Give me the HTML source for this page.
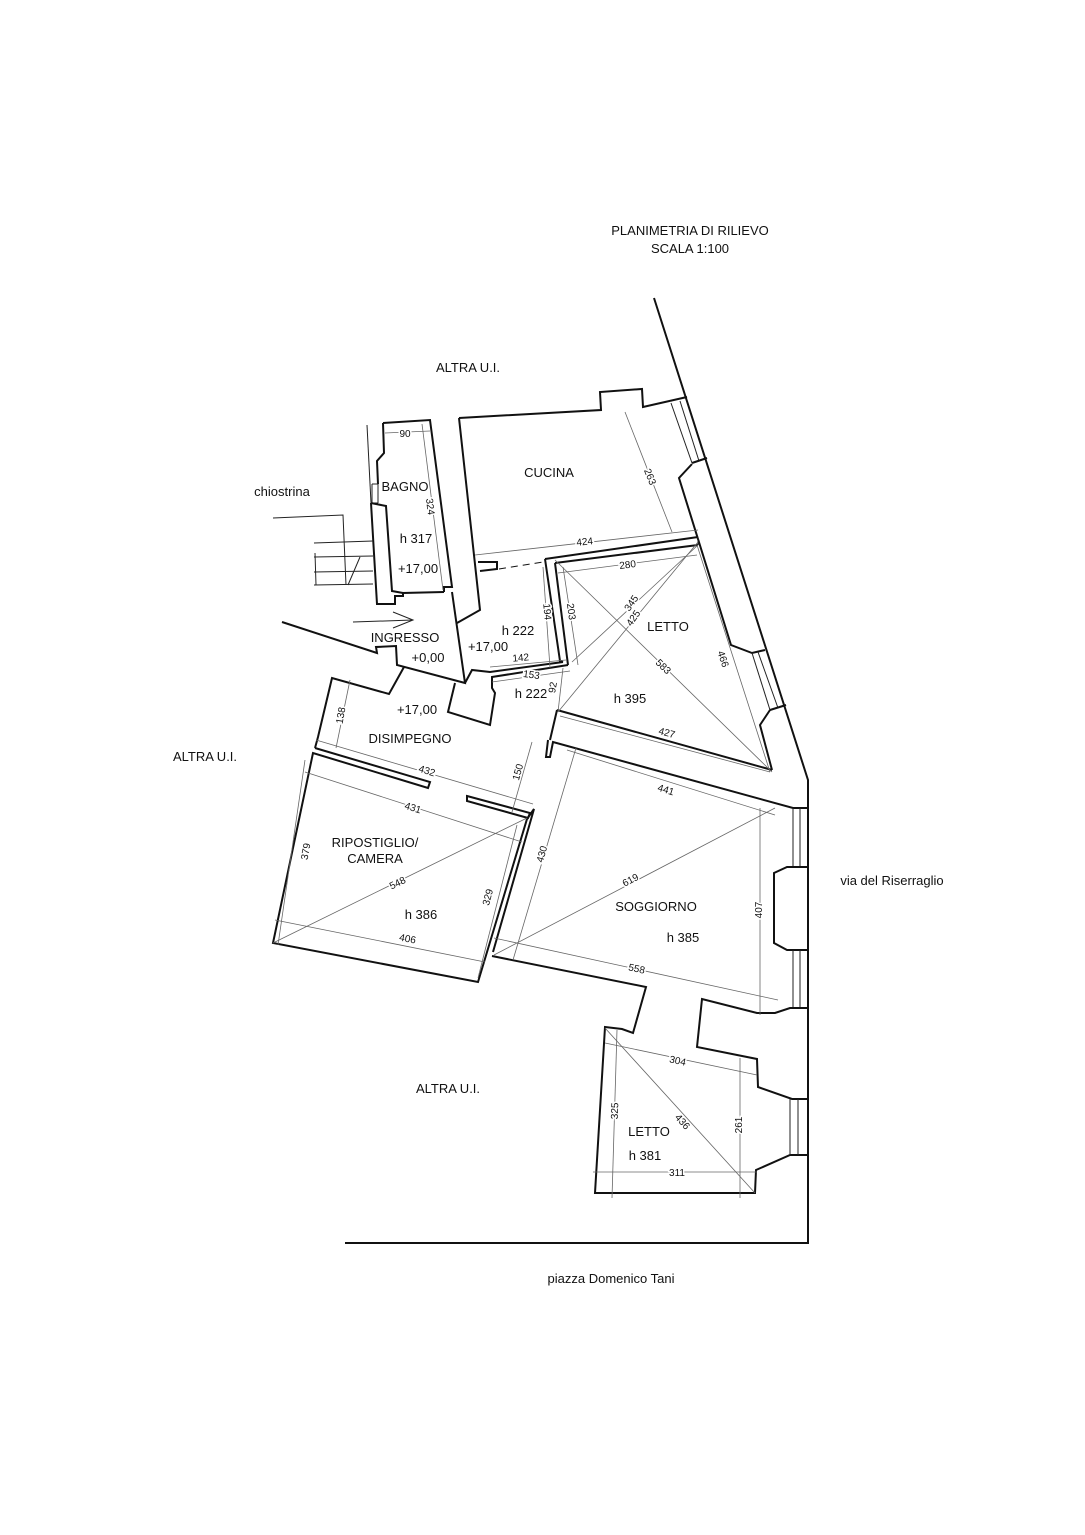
<!DOCTYPE html>
<html><head><meta charset="utf-8"><style>
html,body{margin:0;padding:0;background:#fff}
svg{display:block}
text{font-family:"Liberation Sans",sans-serif;fill:#111}
.w{fill:none;stroke:#111;stroke-width:2;stroke-linejoin:miter}
.t{fill:none;stroke:#222;stroke-width:1}
.d{fill:none;stroke:#666;stroke-width:0.8}
.lb{font-size:13px}
.dm{font-size:10px;fill:#333}
</style></head><body>
<svg width="1085" height="1535" viewBox="0 0 1085 1535" xmlns="http://www.w3.org/2000/svg">
<!-- titles -->
<text x="690" y="235" text-anchor="middle" class="lb">PLANIMETRIA DI RILIEVO</text>
<text x="690" y="253" text-anchor="middle" class="lb">SCALA 1:100</text>
<text x="468" y="372" text-anchor="middle" class="lb">ALTRA U.I.</text>
<text x="205" y="761" text-anchor="middle" class="lb">ALTRA U.I.</text>
<text x="448" y="1093" text-anchor="middle" class="lb">ALTRA U.I.</text>
<text x="282" y="496" text-anchor="middle" class="lb">chiostrina</text>
<text x="892" y="885" text-anchor="middle" class="lb">via del Riserraglio</text>
<text x="611" y="1283" text-anchor="middle" class="lb">piazza Domenico Tani</text>

<!-- exterior street line -->
<polyline class="w" points="654,298 808,780 808,1243 345,1243"/>

<!-- kitchen -->
<polyline class="w" points="459,418 601,410 600,392 642,389 643,407 687,397"/>
<polyline class="w" points="459,418 480,610 457,623"/>
<polyline class="w" points="478,562 497,562 497,569 480,571"/>
<line x1="499" y1="569" x2="543" y2="562" stroke="#111" stroke-width="1" stroke-dasharray="7,5"/>
<!-- right inner wall & windows -->
<line class="t" x1="671" y1="403" x2="692" y2="463"/>
<line class="t" x1="680" y1="401" x2="699" y2="461"/>
<polyline class="w" points="692,463 707,458"/>
<polyline class="w" points="692,464 679,478 731,645 752,653 765,650"/>
<line class="t" x1="752" y1="653" x2="770" y2="710"/>
<line class="t" x1="758" y1="652" x2="778" y2="708"/>
<polyline class="w" points="770,710 786,705"/>
<polyline class="w" points="770,710 760,725 772,770"/>

<!-- bagno -->
<polyline class="w" points="383,423 430,420 452,587 444,587 444,592"/>
<polyline class="w" points="383,423 384,453 377,461 378,484"/>
<line class="t" x1="372" y1="484" x2="378" y2="484"/>
<line class="t" x1="372" y1="503" x2="378" y2="503"/>
<line class="t" x1="372" y1="484" x2="372" y2="503"/>
<line class="t" x1="378" y1="484" x2="378" y2="503"/>
<polyline class="w" points="371,503 377,604 395,604 395,596 403,596 403,593 444,592"/>
<polyline class="w" points="371,503 386,506 392,591 403,593"/>
<line class="t" x1="367" y1="425" x2="371" y2="503"/>
<!-- chiostrina stairs -->
<polyline class="t" points="273,518 343,515 346,585"/>
<line class="t" x1="314" y1="543" x2="373" y2="541"/>
<line class="t" x1="314" y1="557" x2="373" y2="556"/>
<line class="t" x1="314" y1="572" x2="373" y2="571"/>
<line class="t" x1="314" y1="585" x2="373" y2="584"/>
<line class="t" x1="315" y1="553" x2="316" y2="585"/>
<line class="t" x1="360" y1="557" x2="348" y2="585"/>

<!-- ingresso -->
<polyline class="w" points="282,622 377,653 376,647 396,646 397,665 465,683 452,592"/>
<polyline class="t" points="353,622 413,620"/>
<polyline class="t" points="393,612 413,620 393,628"/>
<polyline class="w" points="404,667 389,694 332,678 318,737 315,748"/>
<polyline class="w" points="455,683 448,712 490,725 495,693 492,688 492,677 568,665"/>
<polyline class="w" points="465,683 472,670 490,672 563,662"/>

<!-- letto 1 walls -->
<polyline class="w" points="545,559 698,537"/>
<polyline class="w" points="555,563 698,545"/>
<polyline class="w" points="545,559 560,661 563,662"/>
<polyline class="w" points="555,563 568,665"/>
<polyline class="w" points="557,710 772,770"/>
<polyline class="w" points="557,710 550,740"/>
<polyline class="w" points="548,740 546,757 550,757 553,742 793,808 808,808"/>
<line class="t" x1="698" y1="537" x2="698" y2="545"/>

<!-- ripostiglio -->
<polyline class="w" points="315,748 430,782 428,788 313,753 273,943 478,982 527,819 534,809 493,952"/>
<polygon class="w" points="467,796 530,813 528,818 467,801"/>

<!-- soggiorno -->
<polyline class="w" points="492,956 646,987 633,1033 622,1029 605,1027 595,1193 755,1193 756,1170 790,1155 808,1155"/>
<line class="t" x1="793" y1="808" x2="793" y2="867"/>
<line class="t" x1="800" y1="808" x2="800" y2="867"/>
<polyline class="w" points="808,867 787,867 774,873 774,943 787,950 808,950"/>
<line class="t" x1="793" y1="950" x2="793" y2="1008"/>
<line class="t" x1="800" y1="950" x2="800" y2="1008"/>
<polyline class="w" points="808,1008 790,1008 775,1013 757,1013 702,999 697,1047 757,1059 758,1087 792,1099 808,1099"/>
<line class="t" x1="790" y1="1099" x2="790" y2="1155"/>
<line class="t" x1="798" y1="1099" x2="798" y2="1155"/>

<!-- dimension lines -->
<g class="d">
<line x1="385" y1="433" x2="430" y2="431"/>
<line x1="422" y1="424" x2="443" y2="590"/>
<line x1="625" y1="412" x2="672" y2="532"/>
<line x1="475" y1="555" x2="698" y2="530"/>
<line x1="558" y1="573" x2="697" y2="555"/>
<line x1="543" y1="567" x2="550" y2="668"/>
<line x1="563" y1="567" x2="578" y2="665"/>
<line x1="572" y1="662" x2="698" y2="545"/>
<line x1="558" y1="712" x2="698" y2="542"/>
<line x1="555" y1="560" x2="772" y2="772"/>
<line x1="697" y1="545" x2="770" y2="772"/>
<line x1="490" y1="667" x2="566" y2="660"/>
<line x1="492" y1="682" x2="570" y2="671"/>
<line x1="563" y1="668" x2="558" y2="712"/>
<line x1="560" y1="716" x2="770" y2="772"/>
<line x1="350" y1="680" x2="336" y2="748"/>
<line x1="316" y1="740" x2="533" y2="804"/>
<line x1="532" y1="742" x2="512" y2="812"/>
<line x1="305" y1="772" x2="522" y2="842"/>
<line x1="567" y1="750" x2="775" y2="815"/>
<line x1="305" y1="760" x2="278" y2="945"/>
<line x1="273" y1="943" x2="527" y2="818"/>
<line x1="517" y1="825" x2="478" y2="978"/>
<line x1="576" y1="748" x2="513" y2="960"/>
<line x1="494" y1="955" x2="775" y2="808"/>
<line x1="275" y1="920" x2="485" y2="962"/>
<line x1="760" y1="808" x2="760" y2="1015"/>
<line x1="494" y1="938" x2="778" y2="1000"/>
<line x1="605" y1="1043" x2="757" y2="1075"/>
<line x1="617" y1="1030" x2="612" y2="1198"/>
<line x1="605" y1="1028" x2="755" y2="1193"/>
<line x1="740" y1="1058" x2="740" y2="1198"/>
<line x1="593" y1="1172" x2="757" y2="1172"/>
</g>
<g class="dm" text-anchor="middle">
<text x="405" y="437" fill="#333" style="paint-order:stroke;stroke:#fff;stroke-width:3px">90</text>
<text transform="translate(427,507) rotate(83)" style="paint-order:stroke;stroke:#fff;stroke-width:3px">324</text>
<text transform="translate(647,478) rotate(68)" style="paint-order:stroke;stroke:#fff;stroke-width:3px">263</text>
<text transform="translate(585,545) rotate(-6)" style="paint-order:stroke;stroke:#fff;stroke-width:3px">424</text>
<text transform="translate(628,568) rotate(-7)" style="paint-order:stroke;stroke:#fff;stroke-width:3px">280</text>
<text transform="translate(544,612) rotate(85)" style="paint-order:stroke;stroke:#fff;stroke-width:3px">194</text>
<text transform="translate(568,612) rotate(82)" style="paint-order:stroke;stroke:#fff;stroke-width:3px">203</text>
<text transform="translate(634,605) rotate(-55)" style="paint-order:stroke;stroke:#fff;stroke-width:3px">345</text>
<text transform="translate(636,620) rotate(-55)" style="paint-order:stroke;stroke:#fff;stroke-width:3px">425</text>
<text transform="translate(661,669) rotate(44)" style="paint-order:stroke;stroke:#fff;stroke-width:3px">583</text>
<text transform="translate(720,660) rotate(72)" style="paint-order:stroke;stroke:#fff;stroke-width:3px">466</text>
<text transform="translate(521,661) rotate(-5)" style="paint-order:stroke;stroke:#fff;stroke-width:3px">142</text>
<text transform="translate(531,678) rotate(8)" style="paint-order:stroke;stroke:#fff;stroke-width:3px">153</text>
<text transform="translate(556,688) rotate(-80)" style="paint-order:stroke;stroke:#fff;stroke-width:3px">92</text>
<text transform="translate(666,736) rotate(15)" style="paint-order:stroke;stroke:#fff;stroke-width:3px">427</text>
<text transform="translate(344,716) rotate(-80)" style="paint-order:stroke;stroke:#fff;stroke-width:3px">138</text>
<text transform="translate(426,774) rotate(17)" style="paint-order:stroke;stroke:#fff;stroke-width:3px">432</text>
<text transform="translate(521,773) rotate(-74)" style="paint-order:stroke;stroke:#fff;stroke-width:3px">150</text>
<text transform="translate(412,811) rotate(17)" style="paint-order:stroke;stroke:#fff;stroke-width:3px">431</text>
<text transform="translate(665,793) rotate(17)" style="paint-order:stroke;stroke:#fff;stroke-width:3px">441</text>
<text transform="translate(309,852) rotate(-80)" style="paint-order:stroke;stroke:#fff;stroke-width:3px">379</text>
<text transform="translate(399,886) rotate(-26)" style="paint-order:stroke;stroke:#fff;stroke-width:3px">548</text>
<text transform="translate(491,898) rotate(-75)" style="paint-order:stroke;stroke:#fff;stroke-width:3px">329</text>
<text transform="translate(545,855) rotate(-74)" style="paint-order:stroke;stroke:#fff;stroke-width:3px">430</text>
<text transform="translate(632,883) rotate(-28)" style="paint-order:stroke;stroke:#fff;stroke-width:3px">619</text>
<text transform="translate(407,942) rotate(11)" style="paint-order:stroke;stroke:#fff;stroke-width:3px">406</text>
<text transform="translate(762,910) rotate(-90)" style="paint-order:stroke;stroke:#fff;stroke-width:3px">407</text>
<text transform="translate(636,972) rotate(12)" style="paint-order:stroke;stroke:#fff;stroke-width:3px">558</text>
<text transform="translate(677,1064) rotate(12)" style="paint-order:stroke;stroke:#fff;stroke-width:3px">304</text>
<text transform="translate(618,1111) rotate(-88)" style="paint-order:stroke;stroke:#fff;stroke-width:3px">325</text>
<text transform="translate(680,1124) rotate(48)" style="paint-order:stroke;stroke:#fff;stroke-width:3px">436</text>
<text transform="translate(742,1125) rotate(-90)" style="paint-order:stroke;stroke:#fff;stroke-width:3px">261</text>
<text x="677" y="1176" style="paint-order:stroke;stroke:#fff;stroke-width:3px">311</text>
</g>

<!-- room labels -->
<g class="lb" text-anchor="middle">
<text x="549" y="477">CUCINA</text>
<text x="405" y="491">BAGNO</text>
<text x="416" y="543">h 317</text>
<text x="418" y="573">+17,00</text>
<text x="405" y="642">INGRESSO</text>
<text x="428" y="662">+0,00</text>
<text x="518" y="635">h 222</text>
<text x="488" y="651">+17,00</text>
<text x="531" y="698">h 222</text>
<text x="668" y="631">LETTO</text>
<text x="630" y="703">h 395</text>
<text x="417" y="714">+17,00</text>
<text x="410" y="743">DISIMPEGNO</text>
<text x="375" y="847">RIPOSTIGLIO/</text>
<text x="375" y="863">CAMERA</text>
<text x="421" y="919">h 386</text>
<text x="656" y="911">SOGGIORNO</text>
<text x="683" y="942">h 385</text>
<text x="649" y="1136">LETTO</text>
<text x="645" y="1160">h 381</text>
</g>
</svg>
</body></html>
